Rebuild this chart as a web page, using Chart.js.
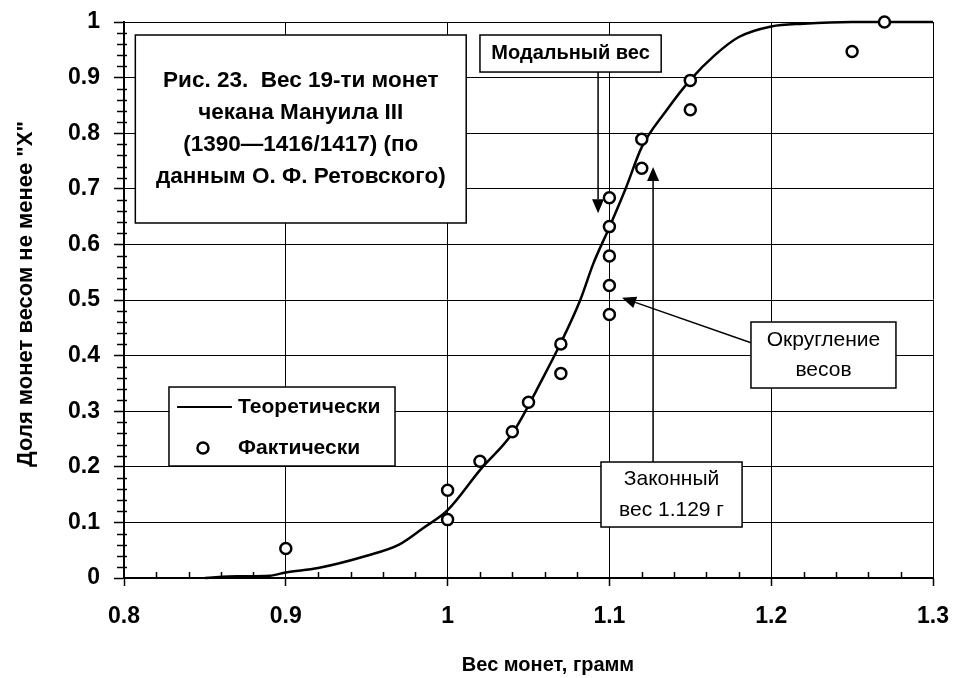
<!DOCTYPE html>
<html>
<head>
<meta charset="utf-8">
<script src="https://cdn.jsdelivr.net/npm/chart.js@4.4.1/dist/chart.umd.min.js"></script>
<style>
  html, body { margin: 0; padding: 0; background: #fff; }
  #wrap { width: 955px; height: 678px; }
</style>
</head>
<body>
<div id="wrap"><canvas id="coinChart" width="955" height="678"></canvas></div>
<script>
// Фактические веса 19 монет (г) и доля монет весом не менее X
const factWeights = [0.90, 1.00, 1.00, 1.02, 1.04, 1.05, 1.07, 1.07, 1.10, 1.10, 1.10, 1.10, 1.10, 1.12, 1.12, 1.15, 1.15, 1.25, 1.27];
const factShares  = [0.053, 0.105, 0.158, 0.210, 0.263, 0.316, 0.368, 0.421, 0.474, 0.526, 0.579, 0.632, 0.684, 0.737, 0.789, 0.842, 0.895, 0.947, 1.000];

// Теоретическая кривая
const theoryWeights = [0.85, 0.87, 0.89, 0.90, 0.92, 0.95, 0.97, 0.985, 1.00, 1.02, 1.04, 1.05, 1.055, 1.07, 1.082, 1.09, 1.10, 1.11, 1.12, 1.135, 1.15, 1.165, 1.18, 1.20, 1.22, 1.25, 1.30];
const theoryShares  = [0.000, 0.003, 0.004, 0.010, 0.018, 0.040, 0.060, 0.090, 0.122, 0.194, 0.260, 0.310, 0.338, 0.423, 0.500, 0.565, 0.631, 0.700, 0.775, 0.840, 0.896, 0.940, 0.973, 0.992, 0.997, 1.000, 1.000];

// Подписи осей
const xTickLabels = ['0.8', '0.9', '1', '1.1', '1.2', '1.3'];
const yTickLabels = ['0', '0.1', '0.2', '0.3', '0.4', '0.5', '0.6', '0.7', '0.8', '0.9', '1'];

const FONT = '"Liberation Sans", Arial, sans-serif';

// Надписи и стрелки (в единицах осей)
const titleBox = { x1: 0.807, x2: 1.0115, y1: 0.9766, y2: 0.6385,
    lines: ['Рис. 23.  Вес 19-ти монет', 'чекана Мануила III', '(1390\u20141416/1417) (по', 'данным О. Ф. Ретовского)'] };
const modalBox = { x1: 1.020, x2: 1.132, y1: 0.9766, y2: 0.910, lines: ['Модальный вес'] };
const legalBox = { x1: 1.0948, x2: 1.182, y1: 0.2086, y2: 0.0917, lines: ['Законный', 'вес 1.129 г'] };
const roundBox = { x1: 1.1875, x2: 1.2771, y1: 0.4604, y2: 0.3417, lines: ['Округление', 'весов'] };
const legendBox = { x1: 0.8278, x2: 0.9675, y1: 0.3435, y2: 0.2014 };

function buildPoints(xs, ys) {
    return xs.map((x, i) => ({ x: x, y: ys[i] }));
}

function drawBox(ctx, xs, ys, box, font, lineGap) {
    const l = xs.getPixelForValue(box.x1), r = xs.getPixelForValue(box.x2);
    const t = ys.getPixelForValue(box.y1), b = ys.getPixelForValue(box.y2);
    ctx.fillStyle = '#fff';
    ctx.fillRect(l, t, r - l, b - t);
    ctx.strokeStyle = '#000';
    ctx.lineWidth = 1.5;
    ctx.strokeRect(l, t, r - l, b - t);
    if (!box.lines) return;
    ctx.fillStyle = '#000';
    ctx.font = font;
    ctx.textAlign = 'center';
    ctx.textBaseline = 'middle';
    const cx = (l + r) / 2, cy = (t + b) / 2;
    const n = box.lines.length;
    box.lines.forEach((s, i) => {
        ctx.fillText(s, cx, cy + (i - (n - 1) / 2) * lineGap);
    });
}

function drawArrow(ctx, x0, y0, x1, y1) {
    ctx.strokeStyle = '#000';
    ctx.fillStyle = '#000';
    ctx.lineWidth = 1.5;
    const a = Math.atan2(y1 - y0, x1 - x0);
    const len = 14, half = 6;
    const bx = x1 - len * Math.cos(a), by = y1 - len * Math.sin(a);
    ctx.beginPath();
    ctx.moveTo(x0, y0);
    ctx.lineTo(bx, by);
    ctx.stroke();
    ctx.beginPath();
    ctx.moveTo(x1, y1);
    ctx.lineTo(bx + half * Math.sin(a), by - half * Math.cos(a));
    ctx.lineTo(bx - half * Math.sin(a), by + half * Math.cos(a));
    ctx.closePath();
    ctx.fill();
}

const decorPlugin = {
    id: 'decor',
    afterDraw(chart) {
        const ctx = chart.ctx;
        const xs = chart.scales.x, ys = chart.scales.y;
        const area = chart.chartArea;
        ctx.save();

        // мелкие деления
        ctx.strokeStyle = '#000';
        ctx.lineWidth = 1.5;
        for (let i = 1; i < 50; i++) {
            if (i % 5 === 0) continue;
            const y = Math.round(ys.getPixelForValue(i * 0.02)) + 0.5;
            ctx.beginPath();
            ctx.moveTo(area.left - 7, y);
            ctx.lineTo(area.left + 3, y);
            ctx.stroke();
        }
        for (let i = 1; i < 25; i++) {
            if (i % 5 === 0) continue;
            const x = Math.round(xs.getPixelForValue(0.8 + i * 0.02)) + 0.5;
            ctx.beginPath();
            ctx.moveTo(x, area.bottom);
            ctx.lineTo(x, area.bottom - 6);
            ctx.stroke();
        }

        // названия осей
        ctx.fillStyle = '#000';
        ctx.font = 'bold 20px ' + FONT;
        ctx.textAlign = 'center';
        ctx.textBaseline = 'middle';
        ctx.fillText('Вес монет, грамм', 548, 665);
        ctx.save();
        ctx.translate(26, 294);
        ctx.rotate(-Math.PI / 2);
        ctx.font = 'bold 22px ' + FONT;
        ctx.fillText('Доля монет весом не менее "X"', 0, 0);
        ctx.restore();

        // заголовок
        drawBox(ctx, xs, ys, titleBox, 'bold 22.5px ' + FONT, 32);
        drawBox(ctx, xs, ys, modalBox, 'bold 20px ' + FONT, 30);
        drawBox(ctx, xs, ys, legalBox, '21px ' + FONT, 31);
        drawBox(ctx, xs, ys, roundBox, '21px ' + FONT, 30);

        // стрелки
        drawArrow(ctx, xs.getPixelForValue(1.093), ys.getPixelForValue(0.910),
                       xs.getPixelForValue(1.093), ys.getPixelForValue(0.656));
        drawArrow(ctx, xs.getPixelForValue(1.127), ys.getPixelForValue(0.2086),
                       xs.getPixelForValue(1.127), ys.getPixelForValue(0.739));
        drawArrow(ctx, xs.getPixelForValue(1.1875), ys.getPixelForValue(0.423),
                       xs.getPixelForValue(1.1078), ys.getPixelForValue(0.504));

        // легенда
        drawBox(ctx, xs, ys, legendBox, '', 0);
        const ds = chart.data.datasets;
        const ly1 = ys.getPixelForValue(0.3076), ly2 = ys.getPixelForValue(0.2338);
        ctx.strokeStyle = '#000';
        ctx.lineWidth = 2;
        ctx.beginPath();
        ctx.moveTo(xs.getPixelForValue(0.8328), ly1);
        ctx.lineTo(xs.getPixelForValue(0.8667), ly1);
        ctx.stroke();
        ctx.beginPath();
        ctx.lineWidth = 2.5;
        ctx.fillStyle = '#fff';
        ctx.arc(xs.getPixelForValue(0.8488), ly2, 5.5, 0, Math.PI * 2);
        ctx.fill();
        ctx.stroke();
        ctx.fillStyle = '#000';
        ctx.font = 'bold 21px ' + FONT;
        ctx.textAlign = 'left';
        ctx.textBaseline = 'middle';
        const tx = xs.getPixelForValue(0.8705);
        ctx.fillText(ds[1].label, tx, ly1);
        ctx.fillText(ds[0].label, tx, ly2);

        ctx.restore();
    }
};

const ctx = document.getElementById('coinChart').getContext('2d');
new Chart(ctx, {
    type: 'scatter',
    data: {
        datasets: [{
            label: 'Фактически',
            data: buildPoints(factWeights, factShares),
            showLine: false,
            pointRadius: 5.5,
            pointBorderWidth: 2.5,
            pointBorderColor: '#000',
            pointBackgroundColor: '#fff',
            clip: false,
            order: 0
        }, {
            label: 'Теоретически',
            data: buildPoints(theoryWeights, theoryShares),
            showLine: true,
            borderColor: '#000',
            borderWidth: 2.5,
            pointRadius: 0,
            cubicInterpolationMode: 'monotone',
            clip: false,
            order: 1
        }]
    },
    options: {
        responsive: false,
        animation: false,
        devicePixelRatio: 1,
        layout: { padding: { left: 0, top: 22, right: 22, bottom: 0 } },
        plugins: {
            legend: { display: false },
            tooltip: { enabled: false }
        },
        scales: {
            x: {
                type: 'linear',
                min: 0.8,
                max: 1.3,
                afterFit: function(scale) {
                    scale.height = 100;
                    scale.paddingLeft = 0;
                    scale.paddingRight = 0;
                },
                afterBuildTicks: function(scale) {
                    scale.ticks = xTickLabels.map(v => ({ value: parseFloat(v) }));
                },
                ticks: {
                    color: '#000',
                    font: { family: FONT, size: 23, weight: 'bold' },
                    padding: 17,
                    maxRotation: 0,
                    callback: function(value, index) { return xTickLabels[index]; }
                },
                grid: { color: '#000', lineWidth: 1, tickLength: 8, tickColor: '#000', tickWidth: 1.5 },
                border: { display: true, color: '#000', width: 2 }
            },
            y: {
                type: 'linear',
                min: 0,
                max: 1,
                afterFit: function(scale) {
                    scale.width = 124;
                    scale.paddingTop = 0;
                    scale.paddingBottom = 0;
                },
                afterBuildTicks: function(scale) {
                    scale.ticks = yTickLabels.map(v => ({ value: parseFloat(v) }));
                },
                ticks: {
                    color: '#000',
                    font: { family: FONT, size: 23, weight: 'bold' },
                    padding: 14,
                    callback: function(value, index) { return yTickLabels[index]; }
                },
                grid: { color: '#000', lineWidth: 1, tickLength: 10, tickColor: '#000', tickWidth: 1.5 },
                border: { display: true, color: '#000', width: 2 }
            }
        }
    },
    plugins: [decorPlugin]
});
</script>
</body>
</html>
